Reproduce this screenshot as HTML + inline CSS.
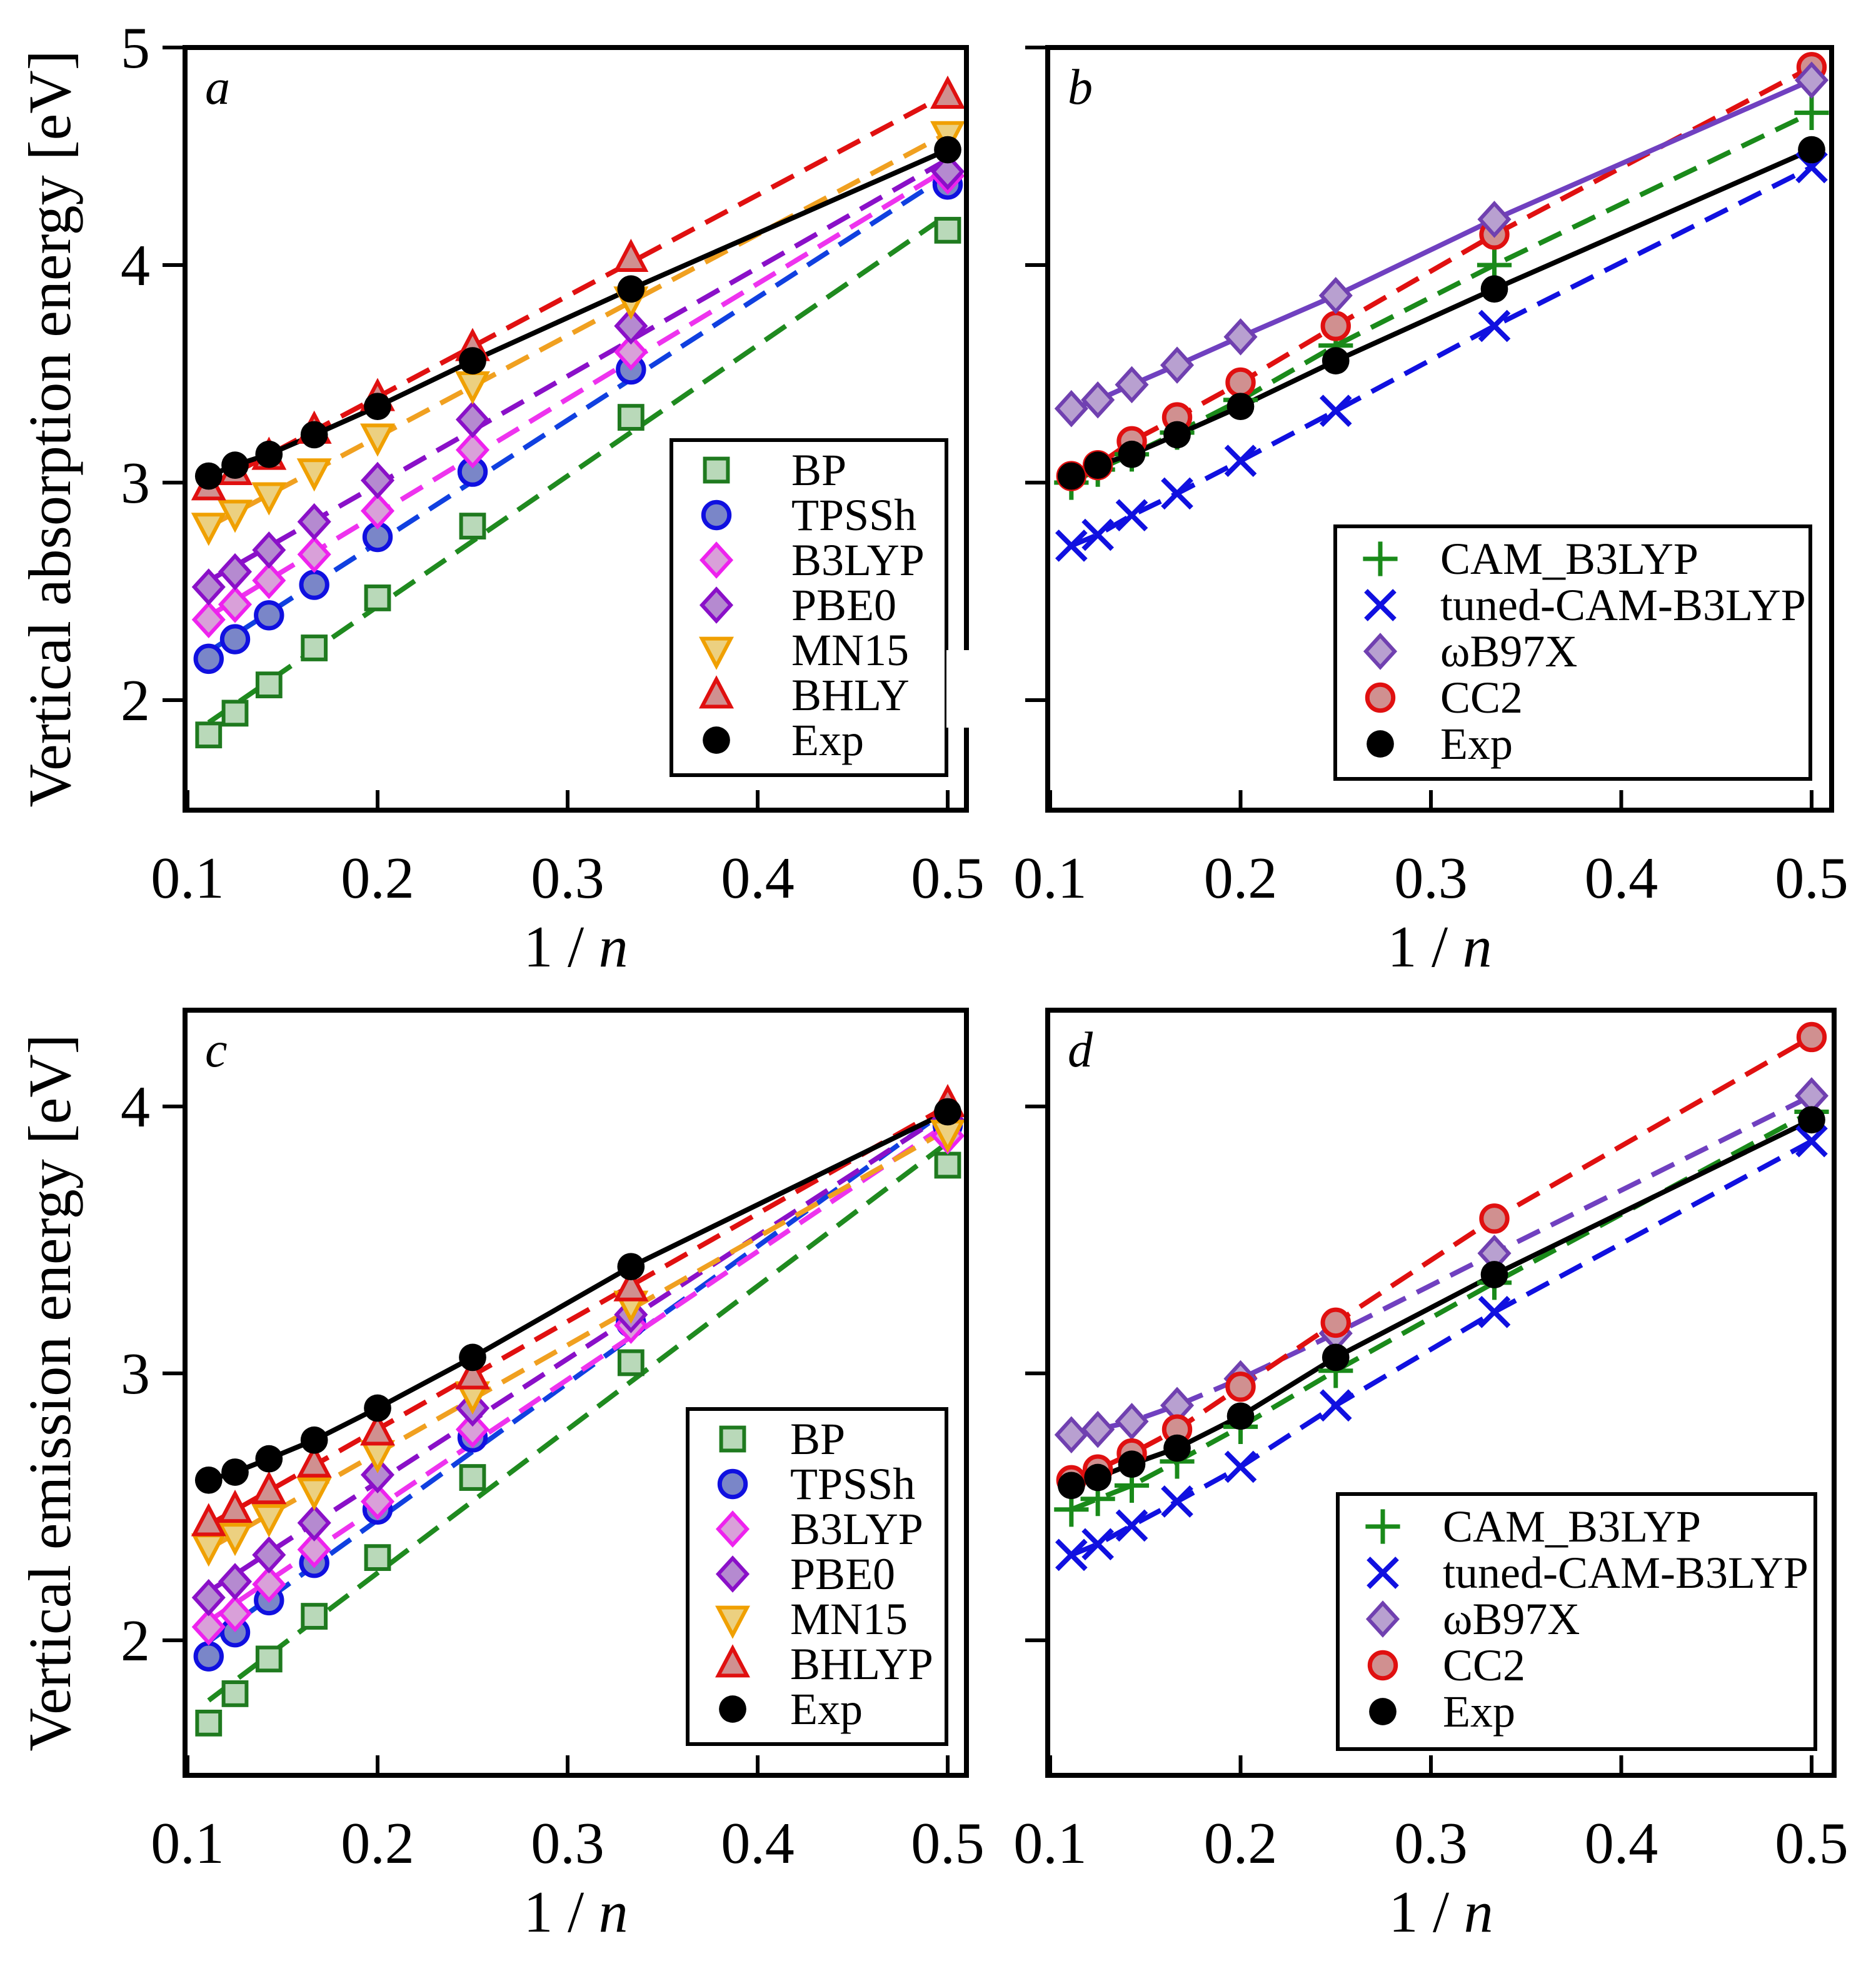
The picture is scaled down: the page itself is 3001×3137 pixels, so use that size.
<!DOCTYPE html>
<html><head><meta charset="utf-8"><style>
html,body{margin:0;padding:0;background:#fff;}
svg{display:block;font-family:"Liberation Serif",serif;}
</style></head><body>
<svg id="chart" width="3001" height="3137" viewBox="0 0 1500.5 1568.5" xmlns="http://www.w3.org/2000/svg"></svg>
<script>
const xs = [1/9, 1/8, 1/7, 1/6, 1/5, 1/4, 1/3, 1/2];
const xTicks = [0.1, 0.2, 0.3, 0.4, 0.5];
const xTickLabels = ["0.1", "0.2", "0.3", "0.4", "0.5"];
const absTicks = [2, 3, 4, 5];
const emTicks = [2, 3, 4];

const absExp   = [3.03, 3.08, 3.13, 3.22, 3.35, 3.56, 3.89, 4.53];
const absBP    = [1.84, 1.94, 2.07, 2.24, 2.47, 2.80, 3.30, 4.16];
const absTPSSh = [2.19, 2.28, 2.39, 2.53, 2.75, 3.05, 3.52, 4.37];
const absB3LYP = [2.37, 2.44, 2.55, 2.67, 2.87, 3.15, 3.60, 4.41];
const absPBE0  = [2.52, 2.59, 2.69, 2.82, 3.01, 3.29, 3.72, 4.43];
const absMN15  = [2.80, 2.86, 2.94, 3.05, 3.21, 3.45, 3.84, 4.60];
const absBHLYP = [2.98, 3.05, 3.12, 3.24, 3.39, 3.62, 4.03, 4.78];
const absCAM   = [3.00, 3.06, 3.13, 3.23, 3.38, 3.63, 4.00, 4.70];
const absTuned = [2.71, 2.76, 2.85, 2.95, 3.10, 3.33, 3.72, 4.45];
const absWB97X = [3.34, 3.38, 3.45, 3.54, 3.67, 3.86, 4.21, 4.85];
const absCC2   = [3.03, 3.08, 3.19, 3.30, 3.46, 3.72, 4.14, 4.91];

const emExp   = [2.60, 2.63, 2.68, 2.75, 2.87, 3.06, 3.40, 3.98];
const emBP    = [1.69, 1.80, 1.93, 2.09, 2.31, 2.61, 3.04, 3.78];
const emTPSSh = [1.94, 2.03, 2.15, 2.29, 2.49, 2.76, 3.19, 3.93];
const emB3LYP = [2.05, 2.10, 2.21, 2.34, 2.52, 2.79, 3.18, 3.89];
const emPBE0  = [2.16, 2.22, 2.32, 2.44, 2.62, 2.87, 3.22, 3.95];
const emMN15  = [2.35, 2.39, 2.46, 2.56, 2.70, 2.92, 3.26, 3.90];
const emBHLYP = [2.44, 2.49, 2.56, 2.66, 2.78, 2.99, 3.32, 4.01];
const emExpD  = [2.58, 2.61, 2.66, 2.72, 2.84, 3.06, 3.37, 3.95];
const emCAM   = [2.49, 2.53, 2.58, 2.67, 2.80, 3.01, 3.34, 3.98];
const emTuned = [2.32, 2.36, 2.43, 2.52, 2.65, 2.88, 3.23, 3.87];
const emWB97X = [2.77, 2.79, 2.82, 2.88, 2.98, 3.15, 3.45, 4.04];
const emCC2   = [2.60, 2.64, 2.70, 2.79, 2.95, 3.19, 3.58, 4.26];

const NS = "http://www.w3.org/2000/svg";
const svg = document.getElementById("chart");
function mk(tag, attrs, parent) {
  const e = document.createElementNS(NS, tag);
  for (const k in attrs) e.setAttribute(k, attrs[k]);
  (parent || svg).appendChild(e);
  return e;
}

const styles = {
  BP:{c:"#1f7a1f",f:"#b9d9b9",m:"square"},
  TPSSh:{c:"#1010e0",f:"#7a86c8",m:"circle"},
  B3LYP:{c:"#ee22ee",f:"#d9a0d9",m:"diamond"},
  PBE0:{c:"#8a10c8",f:"#b58ad0",m:"diamond"},
  MN15:{c:"#f0a000",f:"#ecd080",m:"down"},
  BHLYP:{c:"#e01010",f:"#d09090",m:"up"},
  Exp:{c:"#000",f:"#000",m:"dot"},
  CAM:{c:"#1a8a1a",f:"none",m:"plus"},
  Tuned:{c:"#1010e0",f:"none",m:"x"},
  WB97X:{c:"#7040b0",f:"#b8a0d0",m:"diamond"},
  CC2:{c:"#e01010",f:"#d09090",m:"circle"}
};
const dashCol = {BP:"#1f8a1f",TPSSh:"#1040e0",B3LYP:"#ee33ee",PBE0:"#8a10c8",MN15:"#f0a020",BHLYP:"#e01010",CAM:"#1a8a1a",Tuned:"#1010e0",WB97X:"#7040c0",CC2:"#e01010"};

function marker(g, type, x, y, st, s) {
  s = (s || 1) * 1.15;
  const sw = 3;
  if (type === "square") return mk("rect",{x:x-8*s,y:y-8*s,width:16*s,height:16*s,fill:st.f,stroke:st.c,"stroke-width":sw},g);
  if (type === "circle") return mk("circle",{cx:x,cy:y,r:9*s,fill:st.f,stroke:st.c,"stroke-width":sw+0.5},g);
  if (type === "dot") return mk("circle",{cx:x,cy:y,r:9.5*s,fill:"#000"},g);
  if (type === "diamond") return mk("polygon",{points:`${x},${y-11*s} ${x+10*s},${y} ${x},${y+11*s} ${x-10*s},${y}`,fill:st.f,stroke:st.c,"stroke-width":sw},g);
  if (type === "down") return mk("polygon",{points:`${x-10*s},${y-8*s} ${x+10*s},${y-8*s} ${x},${y+11*s}`,fill:st.f,stroke:st.c,"stroke-width":sw},g);
  if (type === "up") return mk("polygon",{points:`${x-10*s},${y+8*s} ${x+10*s},${y+8*s} ${x},${y-11*s}`,fill:st.f,stroke:st.c,"stroke-width":sw},g);
  if (type === "plus") return mk("path",{d:`M${x-12*s},${y}H${x+12*s}M${x},${y-12*s}V${y+12*s}`,stroke:st.c,"stroke-width":3.5,fill:"none"},g);
  if (type === "x") return mk("path",{d:`M${x-10*s},${y-10*s}L${x+10*s},${y+10*s}M${x+10*s},${y-10*s}L${x-10*s},${y+10*s}`,stroke:st.c,"stroke-width":4,fill:"none"},g);
}

function fit(ys) {
  const n = xs.length; let sx=0,sy=0,sxx=0,sxy=0;
  for (let i=0;i<n;i++){sx+=xs[i];sy+=ys[i];sxx+=xs[i]*xs[i];sxy+=xs[i]*ys[i];}
  const b=(n*sxy-sx*sy)/(n*sxx-sx*sx); return [ (sy-b*sx)/n, b ];
}

function panel(p) {
  const g = mk("g",{});
  
  
  const X = v => p.x0 + (v - 0.1) / 0.4 * (p.x05 - p.x0);
  const Y = v => p.yRef + (p.refVal - v) * p.ppu;
  p.series.forEach(s => {
    const ys = s.data; let d;
    if (s.fit) { const [a,b]=fit(ys); d=`M${X(xs[0])},${Y(a+b*xs[0])}L${X(xs[7])},${Y(a+b*xs[7])}`; }
    else d = "M" + xs.map((x,i)=>X(x)+","+Y(ys[i])).join("L");
    const ln = mk("path",{d:d,fill:"none",stroke:s.name==="Exp"?"#000":(s.lineCol||dashCol[s.name]),"stroke-width":4,"stroke-dasharray":s.solid?"none":"20,10"},g);
    
    
  });
  p.series.forEach(s => {
    s.data.forEach((v,i) => {
      const m = marker(g, styles[s.name].m, X(xs[i]), Y(v), styles[s.name]);
      
      
    });
  });
  const fr = mk("rect",{x:p.bx0,y:p.by0,width:p.bx1-p.bx0,height:p.by1-p.by0,fill:"none",stroke:"#000","stroke-width":4},g);
  
  
  xTicks.forEach((t,i) => {
    const tx = X(t);
    const tk = mk("line",{x1:tx,x2:tx,y1:p.by1,y2:p.by1-16,stroke:"#000","stroke-width":3},g);
    
    
    const lb = mk("text",{x:tx,y:p.by1+70,"font-size":47,"text-anchor":"middle"},g);
    lb.textContent = xTickLabels[i];
    
    
  });
  const xt = mk("text",{x:(p.bx0+p.bx1)/2,y:p.by1+125,"font-size":47,"text-anchor":"middle"},g);
  xt.innerHTML = '1 / <tspan font-style="italic">n</tspan>';
  
  
  p.yTicks.forEach(t => {
    const ty = Y(t);
    const tk = mk("line",{x1:p.bx0-18,x2:p.bx0,y1:ty,y2:ty,stroke:"#000","stroke-width":3},g);
    
    
    if (p.yLabels) {
      const lb = mk("text",{x:p.bx0-28,y:ty+16,"font-size":47,"text-anchor":"end"},g);
      lb.textContent = String(t);
      
      
    }
  });
  if (p.yTitle) {
    const yt = mk("text",{x:0,y:0,"font-size":48,"text-anchor":"middle",transform:`translate(56,${(p.by0+p.by1)/2}) rotate(-90)`},g);
    yt.textContent = p.yTitle;
    
    
  }
  const pl = mk("text",{x:p.bx0+16,y:p.by0+45,"font-size":40,"font-style":"italic"},g);
  pl.textContent = p.letter;
  
  
  const L = p.legend;
  const lg = mk("g",{},g);
  
  
  mk("rect",{x:L.x,y:L.y,width:L.w,height:L.h,fill:"#fff",stroke:"#000","stroke-width":3},lg);
  p.series.slice().sort((a,b)=>a.order-b.order).forEach((s,i) => {
    const ey = L.y + L.first + i * L.step;
    const e = mk("g",{},lg);
    
    
    marker(e, styles[s.name].m, L.x + L.mx, ey, styles[s.name], 1.0);
    const t = mk("text",{x:L.x+L.tx,y:ey+12,"font-size":36},e);
    t.textContent = s.legendText || s.label;
  });
  if (p.cover) { mk("rect",p.cover,g); }
}

const ax = {x0:150, x05:758}, bx = {x0:840, x05:1449};
panel({letter:"a", ...ax, yRef:212, refVal:4, ppu:174, bx0:148, bx1:773, by0:38, by1:648, yTicks:absTicks, yLabels:true,
  yTitle:"Vertical absorption energy [eV]",
  legend:{x:537,y:352,w:220,h:268,first:24,step:36,mx:36,tx:96},
  cover:{x:757,y:520,width:20,height:62,fill:"#fff"},
  series:[
    {name:"BP",label:"BP",data:absBP,fit:true,order:0},
    {name:"TPSSh",label:"TPSSh",data:absTPSSh,fit:true,order:1},
    {name:"B3LYP",label:"B3LYP",data:absB3LYP,fit:true,order:2},
    {name:"PBE0",label:"PBE0",data:absPBE0,fit:true,order:3},
    {name:"MN15",label:"MN15",data:absMN15,fit:true,order:4},
    {name:"BHLYP",label:"BHLYP",legendText:"BHLY",data:absBHLYP,fit:true,order:5},
    {name:"Exp",label:"Exp",data:absExp,solid:true,order:6}]});
panel({letter:"b", ...bx, yRef:212, refVal:4, ppu:174, bx0:838, bx1:1465, by0:38, by1:648, yTicks:absTicks, yLabels:false,
  legend:{x:1068,y:421,w:380,h:202,first:26,step:37,mx:36,tx:84},
  series:[
    {name:"CAM",label:"CAM_B3LYP",data:absCAM,order:0},
    {name:"Tuned",label:"tuned-CAM-B3LYP",data:absTuned,order:1},
    {name:"CC2",label:"CC2",data:absCC2,order:3},
    {name:"WB97X",label:"ωB97X",data:absWB97X,solid:true,order:2},
    {name:"Exp",label:"Exp",data:absExp,solid:true,order:4}]});
panel({letter:"c", ...ax, yRef:885, refVal:4, ppu:213.5, bx0:148, bx1:773, by0:808, by1:1420, yTicks:emTicks, yLabels:true,
  yTitle:"Vertical emission energy [eV]",
  legend:{x:550,y:1127,w:207,h:268,first:24,step:36,mx:36,tx:82},
  series:[
    {name:"BP",label:"BP",data:emBP,fit:true,order:0},
    {name:"TPSSh",label:"TPSSh",data:emTPSSh,fit:true,order:1},
    {name:"B3LYP",label:"B3LYP",data:emB3LYP,fit:true,order:2},
    {name:"PBE0",label:"PBE0",data:emPBE0,fit:true,order:3},
    {name:"MN15",label:"MN15",data:emMN15,fit:true,order:4},
    {name:"BHLYP",label:"BHLYP",data:emBHLYP,fit:true,order:5},
    {name:"Exp",label:"Exp",data:emExp,solid:true,order:6}]});
panel({letter:"d", ...bx, yRef:885, refVal:4, ppu:213.5, bx0:838, bx1:1467, by0:808, by1:1420, yTicks:emTicks, yLabels:false,
  legend:{x:1070,y:1195,w:382,h:204,first:26,step:37,mx:36,tx:84},
  series:[
    {name:"CAM",label:"CAM_B3LYP",data:emCAM,order:0},
    {name:"Tuned",label:"tuned-CAM-B3LYP",data:emTuned,order:1},
    {name:"WB97X",label:"ωB97X",data:emWB97X,order:2},
    {name:"CC2",label:"CC2",data:emCC2,order:3},
    {name:"Exp",label:"Exp",data:emExpD,solid:true,order:4}]});
</script>
</body></html>
